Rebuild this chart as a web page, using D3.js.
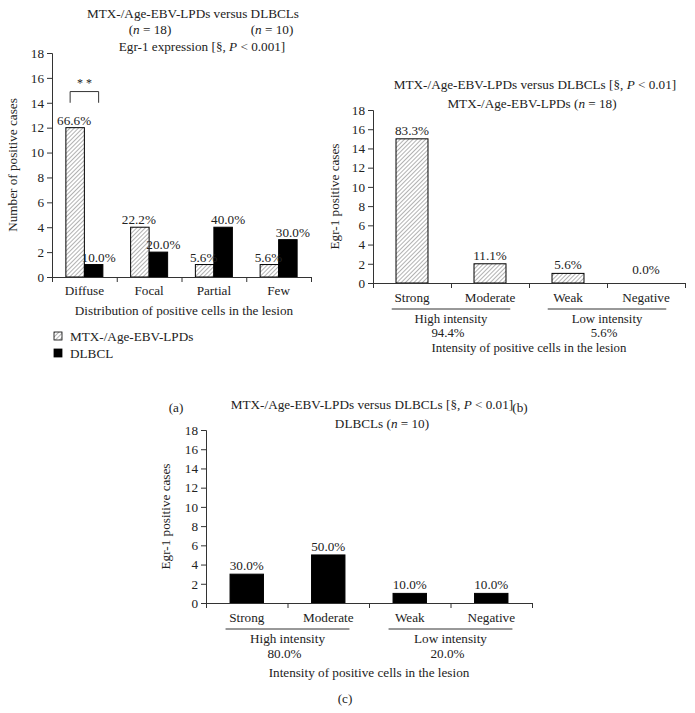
<!DOCTYPE html>
<html><head><meta charset="utf-8">
<script src="https://cdn.jsdelivr.net/npm/d3@7"></script>
<style>
body{margin:0;background:#fff;}
svg{display:block;}
text{font-family:"Liberation Serif","DejaVu Serif",serif;fill:#222;}
</style></head>
<body>
<script>
// ---- data ----
const distCategories = ["Diffuse","Focal","Partial","Few"];
const seriesNames = ["MTX-/Age-EBV-LPDs","DLBCL"];
const lpdDist = [12,4,1,1];
const lpdDistPct = ["66.6%","22.2%","5.6%","5.6%"];
const dlbclDist = [1,2,4,3];
const dlbclDistPct = ["10.0%","20.0%","40.0%","30.0%"];
const intensityCategories = ["Strong","Moderate","Weak","Negative"];
const lpdIntensity = [15,2,1,0];
const lpdIntensityPct = ["83.3%","11.1%","5.6%","0.0%"];
const dlbclIntensity = [3,5,1,1];
const dlbclIntensityPct = ["30.0%","50.0%","10.0%","10.0%"];
const groupLabels = ["High intensity","Low intensity"];
const lpdGroupPct = ["94.4%","5.6%"];
const dlbclGroupPct = ["80.0%","20.0%"];
const yTicks = [0,2,4,6,8,10,12,14,16,18];

const W=695,H=713,FS=13.2,TS=13.2;
const svg=d3.select("body").append("svg").attr("width",W).attr("height",H);
const defs=svg.append("defs");
const pat=defs.append("pattern").attr("id","hatch").attr("patternUnits","userSpaceOnUse")
  .attr("width",3).attr("height",3).attr("patternTransform","rotate(45)");
pat.append("rect").attr("width",3).attr("height",3).attr("fill","#fff");
pat.append("line").attr("x1",0).attr("y1",0).attr("x2",0).attr("y2",3).attr("stroke","#666").attr("stroke-width",1);

function txt(g,x,y,parts,anchor="middle",size=FS){
  const t=g.append("text").attr("x",x).attr("y",y).attr("text-anchor",anchor).style("font-size",size+"px");
  parts.forEach(p=>{ if(typeof p==="string") t.append("tspan").text(p); else t.append("tspan").style("font-style","italic").text(p.i);});
  return t;
}

function yAxis(g,x,y0,y1,label,lx){
  const y=d3.scaleLinear().domain([0,18]).range([y0,y1]);
  const ax=g.append("g").attr("transform",`translate(${x},0)`).call(d3.axisLeft(y).tickValues(yTicks).tickSize(5).tickPadding(3));
  ax.select(".domain").attr("stroke","#333");
  ax.selectAll(".tick line").attr("stroke","#333");
  ax.selectAll("text").style("font-size",FS+"px").style("font-family","Liberation Serif, serif").attr("fill","#222");
  g.append("text").attr("transform",`translate(${lx},${(y0+y1)/2}) rotate(-90)`).attr("text-anchor","middle").style("font-size",FS+"px").text(label);
  return y;
}
function xAxisLine(g,x0,x1,y0,n){
  const xs=d3.scaleLinear().domain([0,n]).range([x0,x1]);
  const ax=g.append("g").attr("transform",`translate(0,${y0})`).call(d3.axisBottom(xs).tickValues(d3.range(n+1)).tickSize(5).tickFormat(""));
  ax.select(".domain").attr("stroke","#333");
  ax.selectAll(".tick line").attr("stroke","#333");
}

// ---- Panel (a) ----
{
  const g=svg.append("g");
  const y=yAxis(g,52,277,53,"Number of positive cases",17);
  const x0=d3.scaleBand().domain(distCategories).range([52,311]);
  const gw=37;
  const x1=d3.scaleBand().domain(seriesNames).range([0,gw]);
  const rows=distCategories.map((c,i)=>({c,vals:[{s:seriesNames[0],v:lpdDist[i],p:lpdDistPct[i]},{s:seriesNames[1],v:dlbclDist[i],p:dlbclDistPct[i]}]}));
  const gg=g.selectAll(".grp").data(rows).enter().append("g").attr("transform",d=>`translate(${x0(d.c)+(x0.bandwidth()-gw)/2},0)`);
  gg.selectAll("rect").data(d=>d.vals).enter().append("rect")
    .attr("x",d=>x1(d.s)).attr("width",x1.bandwidth()).attr("y",d=>y(d.v)).attr("height",d=>y(0)-y(d.v))
    .attr("fill",d=>d.s===seriesNames[0]?"url(#hatch)":"#000").attr("stroke","#000").attr("stroke-width",1);
  gg.selectAll("text.pct").data(d=>d.vals).enter().append("text").attr("class","pct")
    .attr("x",(d,i)=>x1(d.s)+x1.bandwidth()/2+(i===1?5:-1)).attr("y",d=>y(d.v)-3)
    .attr("text-anchor","middle").style("font-size",FS+"px").text(d=>d.p);
  xAxisLine(g,52,311,277,4);
  g.selectAll(".xl").data(distCategories).enter().append("text").attr("x",d=>x0(d)+x0.bandwidth()/2).attr("y",295)
    .attr("text-anchor","middle").style("font-size",FS+"px").text(d=>d);
  txt(g,184,315,["Distribution of positive cells in the lesion"]);
  // significance bracket
  const bx0=x0("Diffuse")+(x0.bandwidth()-gw)/2+x1.bandwidth()/2-5, bx1=bx0+x1.bandwidth()+10;
  g.append("path").attr("d",`M${bx0},${y(14)}V${y(14.9)}H${bx1}V${y(14)}`).attr("fill","none").attr("stroke","#333");
  txt(g,(bx0+bx1)/2,y(15.3),["* *"],"middle",12);
  // titles
  txt(g,193,18,["MTX-/Age-EBV-LPDs versus DLBCLs"],"middle",TS);
  txt(g,150,34,["(",{i:"n"}," = 18)"],"middle",TS);
  txt(g,272,34,["(",{i:"n"}," = 10)"],"middle",TS);
  txt(g,202,51,["Egr-1 expression [§, ",{i:"P"}," < 0.001]"],"middle",TS);
  // legend
  const lg=g.append("g");
  seriesNames.forEach((s,i)=>{
    lg.append("rect").attr("x",54).attr("y",332+i*17).attr("width",8).attr("height",8)
      .attr("fill",i===0?"url(#hatch)":"#000").attr("stroke","#000").attr("stroke-width",0.8);
    txt(lg,70,341+i*17,[s],"start");
  });
  txt(g,176,412,["(a)"]);
}

function intensityPanel(o){
  const g=svg.append("g");
  const {yTop,yBot,xl,xr}=o;
  const y=yAxis(g,xl,yBot,yTop,"Egr-1 positive cases",o.ylx);
  const x=d3.scaleBand().domain(intensityCategories).range([xl,xr]);
  const bw=x.bandwidth()*0.41;
  const data=intensityCategories.map((c,i)=>({c,v:o.vals[i],p:o.pcts[i]}));
  g.selectAll("rect.bar").data(data).enter().append("rect")
    .attr("x",d=>x(d.c)+(x.bandwidth()-bw)/2).attr("width",bw).attr("y",d=>y(d.v)).attr("height",d=>y(0)-y(d.v))
    .attr("fill",o.fill).attr("stroke","#000").attr("stroke-width",1);
  g.selectAll("text.pct").data(data).enter().append("text")
    .attr("x",d=>x(d.c)+x.bandwidth()/2).attr("y",d=>y(d.v)-4-(d.v===0?5:0))
    .attr("text-anchor","middle").style("font-size",FS+"px").text(d=>d.p);
  xAxisLine(g,xl,xr,yBot,4);
  g.selectAll(".xl").data(intensityCategories).enter().append("text").attr("x",d=>x(d)+x.bandwidth()/2).attr("y",yBot+o.d[0])
    .attr("text-anchor","middle").style("font-size",FS+"px").text(d=>d);
  const bw2=x.bandwidth();
  const fs2=o.fs2||FS;
  [0,1].forEach(k=>{
    const a=x(intensityCategories[2*k])+bw2*0.24, b=x(intensityCategories[2*k+1])+bw2*0.76;
    g.append("line").attr("x1",a).attr("x2",b).attr("y1",yBot+o.d[1]).attr("y2",yBot+o.d[1]).attr("stroke","#333");
    txt(g,(a+b)/2,yBot+o.d[2],[groupLabels[k]],"middle",fs2);
    txt(g,(a+b)/2-3,yBot+o.d[3],[o.gpcts[k]],"middle",fs2);
  });
  txt(g,(xl+xr)/2,yBot+o.d[4],["Intensity of positive cells in the lesion"],"middle",fs2);
  txt(g,o.t1x,o.titleY,["MTX-/Age-EBV-LPDs versus DLBCLs [§, ",{i:"P"}," < 0.01]"],"middle",TS);
  txt(g,o.t2x,o.titleY+19,o.title2,"middle",TS);
  txt(g,o.plx,o.ply,[o.pl]);
}

intensityPanel({yTop:110,yBot:283,xl:373,xr:685,ylx:339,vals:lpdIntensity,pcts:lpdIntensityPct,gpcts:lpdGroupPct,fill:"url(#hatch)",fs2:12.8,
  titleY:89,title2:["MTX-/Age-EBV-LPDs (",{i:"n"}," = 18)"],t1x:535,t2x:532,d:[18.5,26,39.5,54,68.5],pl:"(b)",plx:520,ply:412});
intensityPanel({yTop:430,yBot:603,xl:206,xr:532,ylx:170,vals:dlbclIntensity,pcts:dlbclIntensityPct,gpcts:dlbclGroupPct,fill:"#000",
  titleY:409,title2:["DLBCLs (",{i:"n"}," = 10)"],t1x:372,t2x:382,d:[19,26,40,55,74],pl:"(c)",plx:345,ply:703});
</script>
</body></html>
